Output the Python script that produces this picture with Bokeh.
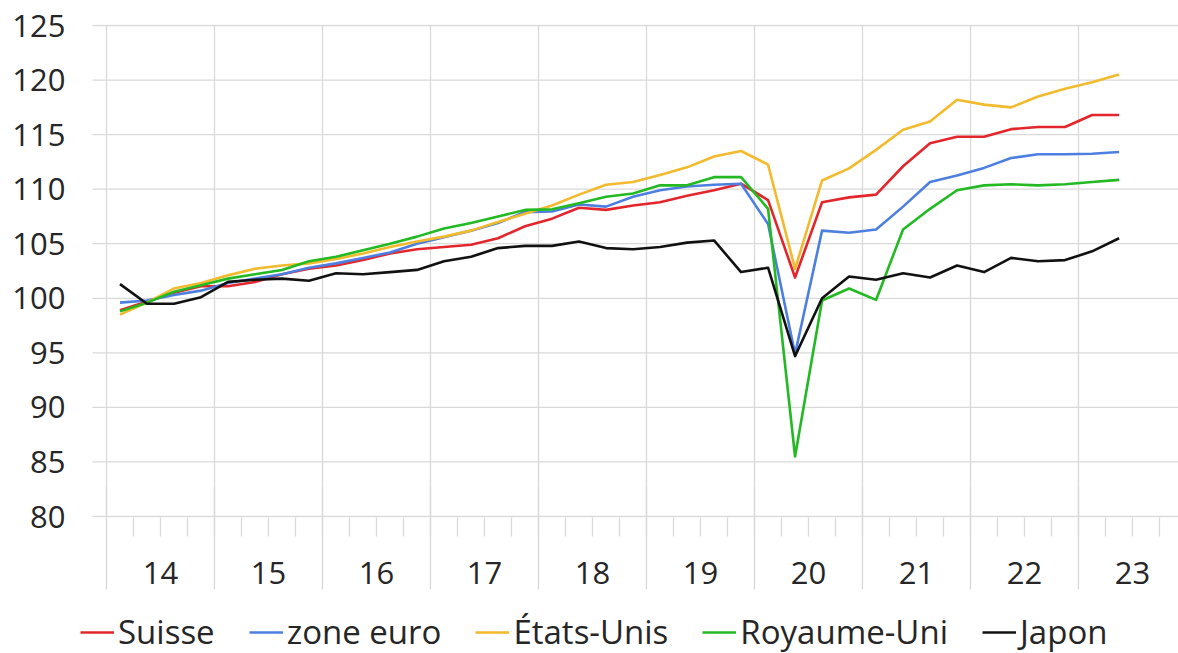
from bokeh.plotting import figure
from bokeh.layouts import column
from bokeh.models import (Range1d, LinearAxis, FixedTicker, Legend, LegendItem,
                          ColumnDataSource, Grid, CustomLabelingPolicy)
from bokeh.embed import file_html
from bokeh.resources import INLINE

# ---- data (quarterly index, 2014 Q1 .. 2023 Q2) ----
quarters = ["14T1", "14T2", "14T3", "14T4", "15T1", "15T2", "15T3", "15T4",
            "16T1", "16T2", "16T3", "16T4", "17T1", "17T2", "17T3", "17T4",
            "18T1", "18T2", "18T3", "18T4", "19T1", "19T2", "19T3", "19T4",
            "20T1", "20T2", "20T3", "20T4", "21T1", "21T2", "21T3", "21T4",
            "22T1", "22T2", "22T3", "22T4", "23T1", "23T2"]

suisse = [98.9, 99.7, 100.5, 101.1, 101.1, 101.5, 102.2, 102.7, 103.0, 103.5,
          104.1, 104.5, 104.7, 104.9, 105.5, 106.6, 107.3, 108.3, 108.1, 108.5,
          108.8, 109.4, 109.9, 110.5, 109.0, 101.9, 108.8, 109.25, 109.5, 112.1,
          114.2, 114.8, 114.8, 115.5, 115.7, 115.7, 116.8, 116.8]

zone_euro = [99.6, 99.8, 100.3, 100.7, 101.4, 101.8, 102.2, 102.8, 103.2, 103.7,
             104.2, 105.0, 105.6, 106.2, 106.9, 107.9, 107.95, 108.6, 108.4, 109.3,
             109.9, 110.25, 110.4, 110.5, 106.8, 94.9, 106.2, 106.0, 106.3, 108.4,
             110.65, 111.25, 111.95, 112.85, 113.2, 113.2, 113.25, 113.4]

etats_unis = [98.5, 99.6, 100.9, 101.4, 102.1, 102.7, 103.0, 103.2, 103.6, 104.1,
              104.7, 105.2, 105.65, 106.2, 107.0, 107.75, 108.5, 109.5, 110.4, 110.65,
              111.3, 112.0, 113.0, 113.5, 112.25, 102.7, 110.8, 111.9, 113.6, 115.45,
              116.2, 118.2, 117.75, 117.5, 118.5, 119.2, 119.8, 120.5]

royaume_uni = [98.8, 99.6, 100.6, 101.2, 101.8, 102.2, 102.6, 103.4, 103.8, 104.4,
               105.0, 105.65, 106.4, 106.9, 107.5, 108.1, 108.15, 108.7, 109.3, 109.6,
               110.35, 110.35, 111.1, 111.1, 108.2, 85.5, 99.8, 100.9, 99.85, 106.3,
               108.2, 109.9, 110.35, 110.45, 110.35, 110.45, 110.65, 110.85]

japon = [101.3, 99.5, 99.5, 100.1, 101.5, 101.7, 101.8, 101.6, 102.3, 102.2,
         102.4, 102.6, 103.4, 103.8, 104.6, 104.8, 104.8, 105.2, 104.6, 104.5,
         104.7, 105.1, 105.3, 102.4, 102.8, 94.7, 100.0, 102.0, 101.7, 102.3,
         101.9, 103.0, 102.4, 103.7, 103.4, 103.5, 104.3, 105.5]

year_labels = ["14", "15", "16", "17", "18", "19", "20", "21", "22", "23"]
y_ticks = [80, 85, 90, 95, 100, 105, 110, 115, 120, 125]

series_names = ["Suisse", "zone euro", "États-Unis", "Royaume-Uni", "Japon"]
series_values = [suisse, zone_euro, etats_unis, royaume_uni, japon]
series_colors = ["#e3262b", "#4d7fe0", "#f2ba2c", "#22b922", "#111111"]

# ---- positions on a quarter scale (one unit = one quarter) ----
x_pos = [i + 0.5 for i in range(len(quarters))]
year_bounds = [4 * k for k in range(len(year_labels))]
year_centers = [4 * k + 2 for k in range(len(year_labels))]
quarter_bounds = [q for q in range(1, 40)]

FONT = "Open Sans"
TXT = "#262626"
GRID = "#d9d9d9"
FS = "31px"
LFS = "33px"
QPX = 27.0                     # pixels per quarter
X0 = -26 / QPX                 # frame starts 26 px left of 2014 Q1
GRID_X0 = -14 / QPX            # horizontal gridlines start 14 px left of it
X1 = 39.7
YPAD = 45 / 491                # one pixel of padding above 125 and below 80

p = figure(width=1178, height=600, x_range=Range1d(X0, X1),
           y_range=Range1d(80 - YPAD, 125 + YPAD),
           output_backend="svg", toolbar_location=None,
           x_axis_type=None, y_axis_type=None,
           min_border_left=80, min_border_right=0, min_border_top=24, min_border_bottom=83)
p.outline_line_color = None
p.background_fill_color = "white"
p.border_fill_color = "white"

# vertical gridlines at year boundaries
xg = Grid(dimension=0, ticker=FixedTicker(ticks=year_bounds),
          grid_line_color=GRID, grid_line_width=1.3)
p.add_layout(xg)

# horizontal gridlines (start a little left of the plot, as in the original)
hsrc = ColumnDataSource(dict(y=y_ticks))
p.segment(x0=GRID_X0, x1=X1, y0="y", y1="y", source=hsrc,
          line_color=GRID, line_width=1.3)

# y axis (labels only)
yax = LinearAxis(ticker=FixedTicker(ticks=y_ticks),
                 axis_line_color=None,
                 major_tick_line_color=None, major_tick_in=0, major_tick_out=0,
                 minor_tick_line_color=None,
                 major_label_standoff=15,
                 major_label_text_font=FONT, major_label_text_font_size=FS,
                 major_label_text_color=TXT)
p.add_layout(yax, "left")

# x axis (labels + quarter ticks)
xax = LinearAxis(ticker=FixedTicker(ticks=year_centers, minor_ticks=quarter_bounds),
                 major_label_overrides={c: lab for c, lab in zip(year_centers, year_labels)},
                 axis_line_color=None,
                 major_tick_line_color=None, major_tick_in=0, major_tick_out=0,
                 minor_tick_line_color=GRID, minor_tick_line_width=1.3,
                 minor_tick_in=0, minor_tick_out=19,
                 major_label_standoff=25,
                 major_label_text_font=FONT, major_label_text_font_size=FS,
                 major_label_text_color=TXT)
p.add_layout(xax, "below")

# x axis (year separators, no labels)
xsep = LinearAxis(ticker=FixedTicker(ticks=year_bounds, minor_ticks=[]),
                  axis_line_color=None,
                  major_tick_line_color=GRID, major_tick_line_width=1.3,
                  major_tick_in=100, major_tick_out=3,
                  minor_tick_line_color=None,
                  major_label_standoff=0,
                  major_label_policy=CustomLabelingPolicy(
                      code="for (const i of indices) indices.unset(i)"))
p.add_layout(xsep, "below")

for vals, col in zip(series_values, series_colors):
    src = ColumnDataSource(dict(x=x_pos, y=vals, q=quarters))
    p.line("x", "y", source=src, line_color=col, line_width=2.6, line_join="round")

# ---- legend strip below the chart ----
pl = figure(width=1178, height=53, x_range=Range1d(0, 1), y_range=Range1d(0, 1),
            output_backend="svg", toolbar_location=None,
            x_axis_type=None, y_axis_type=None,
            min_border_left=80, min_border_right=0, min_border_top=0, min_border_bottom=0)
pl.outline_line_color = None
pl.background_fill_color = "white"
pl.border_fill_color = "white"
pl.grid.visible = False

items = []
for name, vals, col in zip(series_names, series_values, series_colors):
    src = ColumnDataSource(dict(x=x_pos, y=vals))
    r = pl.line("x", "y", source=src, line_color=col, line_width=2.6)
    items.append(LegendItem(label=name, renderers=[r]))

legend = Legend(items=items, orientation="horizontal", location=(0, -1),
                glyph_width=34, glyph_height=30, label_standoff=4, spacing=34,
                padding=0, margin=0, border_line_color=None, background_fill_alpha=0,
                label_text_font=FONT, label_text_font_size=LFS, label_text_color=TXT)
pl.add_layout(legend)

layout = column(p, pl, spacing=0)
open("out.html", "w").write(file_html(layout, INLINE))
